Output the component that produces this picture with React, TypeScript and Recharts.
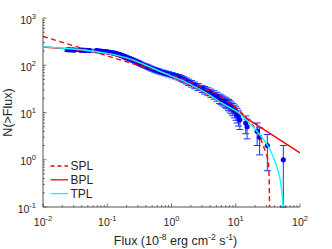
import React from "react"
import { ComposedChart, XAxis, YAxis, Line, ErrorBar, Legend } from "recharts"

const FONT = "'Liberation Sans', Arial, Helvetica, sans-serif"
const INK = "#262626"

// burst counts: flux (1e-8 erg cm^-2 s^-1) and cumulative number N(>Flux)
const dataFlux = [
  55, 31, 23.5, 21.5, 15, 14.3, 11.6, 11.0, 10.5, 10.1, 9.6, 9.0, 8.5, 8.1, 7.7, 7.2, 6.8, 6.3, 5.9, 5.6,
  5.1, 4.6, 4.1, 3.7, 3.3, 3.0, 2.6, 2.3, 2.05, 1.85, 1.7, 1.55, 1.42, 1.3, 1.15, 1.02, 0.9, 0.8, 0.72, 0.65,
  0.6, 0.55, 0.5, 0.46, 0.43, 0.4, 0.37, 0.34, 0.32, 0.3, 0.28, 0.26, 0.245, 0.23, 0.215, 0.2, 0.19, 0.18,
  0.17, 0.16, 0.15, 0.14, 0.13, 0.12, 0.11, 0.1, 0.092, 0.084, 0.078, 0.072, 0.068, 0.053, 0.05, 0.047,
  0.044, 0.041, 0.038, 0.031, 0.029, 0.026, 0.024,
]
const dataN = [
  1, 2, 3, 4, 5, 6, 7, 8, 9, 10, 11, 12, 13, 14, 15, 16, 17, 18, 19, 20,
  22, 24, 26, 28, 30, 32, 35, 38, 41, 44, 47, 50, 53, 56, 59, 62, 65, 68, 71, 74,
  77, 80, 84, 88, 92, 96, 100, 105, 110, 115, 120, 125, 130, 135, 140, 145, 150, 155,
  160, 165, 170, 175, 180, 184, 188, 192, 195, 198, 200, 202, 203, 204, 205, 206,
  207, 208, 209, 210, 211, 212, 213,
]

// fitted models
const splFlux = [0.01, 0.03, 0.1, 0.3, 0.52, 1, 2, 3.4, 5, 6.6, 8.5, 10.7, 13, 15.6, 20, 24, 26.7, 30, 32, 33, 33.3, 33.5, 33.6]
const splN = [408, 258, 158, 100, 82, 62, 44, 31, 25, 19, 15, 11.8, 9, 7, 4.6, 3, 2.0, 1.3, 0.92, 0.45, 0.25, 0.12, 0.05]

const bplFlux = [0.01, 0.03, 0.06, 0.1, 0.2, 0.46, 1, 2, 4, 8, 12, 100]
const bplN = [243, 218, 196, 176, 141, 91, 58, 38, 22.5, 12.6, 9.0, 1.4]

const tplFlux = [0.01, 0.03, 0.06, 0.1, 0.2, 0.3, 0.46, 0.7, 1, 1.35, 2, 3, 4, 6, 8, 11, 14, 18, 22, 28, 34, 40, 45, 50, 53, 54.5, 55.2]
const tplN = [245, 220, 198, 178, 143, 118, 92, 72, 59, 50, 39, 29, 23, 16, 12.8, 10, 7.3, 5.3, 3.8, 2.5, 1.65, 1.0, 0.62, 0.33, 0.17, 0.1, 0.05]

const xMajor = [0.01, 0.1, 1, 10, 100]
const yMajor = [0.1, 1, 10, 100, 1000]
const minorSteps = [2, 3, 4, 5, 6, 7, 8, 9]

const legendItems = [
  { name: "SPL", color: "#ff0000", dash: "4 3" },
  { name: "BPL", color: "#ff0000", dash: undefined },
  { name: "TPL", color: "#00ffff", dash: undefined },
]

const rows = (xs: number[], ys: number[]) => xs.map((s, i) => ({ s, n: ys[i] }))
const splRows = rows(splFlux, splN)
const bplRows = rows(bplFlux, bplN)
const tplRows = rows(tplFlux, tplN)
// poisson errors, lower end stops at the axis floor
const pointRows = dataFlux
  .map((s, i) => {
    const n = dataN[i]
    const e = Math.sqrt(n)
    return { s, n, err: [Math.min(e, n - 0.1), e] }
  })
  .sort((a, b) => a.s - b.s)

const withMinor = (major: number[]) =>
  [...major, ...major.slice(0, -1).flatMap((d) => minorSteps.map((k) => +(d * k).toPrecision(3)))].sort((a, b) => a - b)
const xTicks = withMinor(xMajor)
const yTicks = withMinor(yMajor)

const Pow = ({ v, x, y, anchor }: { v: number; x: number; y: number; anchor: "middle" | "end" }) => (
  <text x={x} y={y} textAnchor={anchor} fontSize={10.5} fill={INK} fontFamily={FONT}>
    10
    <tspan dy={-5} fontSize={7.5}>
      {Math.round(Math.log10(v))}
    </tspan>
  </text>
)

function BottomTick({ x, y, payload }: any) {
  const major = xMajor.includes(payload.value)
  return (
    <g>
      <line x1={x} x2={x} y1={y} y2={y - (major ? 3.5 : 2)} stroke={INK} strokeWidth={0.6} />
      {major && <Pow v={payload.value} x={x} y={y + 19} anchor="middle" />}
    </g>
  )
}

function TopTick({ x, y, payload }: any) {
  const major = xMajor.includes(payload.value)
  return <line x1={x} x2={x} y1={y} y2={y + (major ? 3.5 : 2)} stroke={INK} strokeWidth={0.6} />
}

function LeftTick({ x, y, payload }: any) {
  const major = yMajor.includes(payload.value)
  return (
    <g>
      <line x1={x} x2={x + (major ? 3.5 : 2)} y1={y} y2={y} stroke={INK} strokeWidth={0.6} />
      {major && <Pow v={payload.value} x={x - 7} y={y + 5.5} anchor="end" />}
    </g>
  )
}

function RightTick({ x, y, payload }: any) {
  const major = yMajor.includes(payload.value)
  return <line x1={x} x2={x - (major ? 3.5 : 2)} y1={y} y2={y} stroke={INK} strokeWidth={0.6} />
}

function XTitle({ viewBox }: any) {
  const cx = viewBox.x + viewBox.width / 2 + 4
  return (
    <text x={cx} y={viewBox.y + 38} textAnchor="middle" fontSize={12.5} fill={INK} fontFamily={FONT}>
      Flux (10<tspan dy={-5} fontSize={8.5}>-8</tspan>
      <tspan dy={5}> erg cm</tspan>
      <tspan dy={-5} fontSize={8.5}>-2</tspan>
      <tspan dy={5}> s</tspan>
      <tspan dy={-5} fontSize={8.5}>-1</tspan>
      <tspan dy={5}>)</tspan>
    </text>
  )
}

function YTitle({ viewBox }: any) {
  const x = viewBox.x - 1.5
  const y = viewBox.y + viewBox.height / 2
  return (
    <text x={x} y={y} transform={`rotate(-90, ${x}, ${y})`} textAnchor="middle" fontSize={12.5} fill={INK} fontFamily={FONT}>
      N(&gt;Flux)
    </text>
  )
}

function LegendBox() {
  return (
    <svg width={70} height={46}>
      {legendItems.map((it, i) => {
        const y = 8 + i * 13.8
        return (
          <g key={it.name}>
            <line x1={2.5} x2={20} y1={y} y2={y} stroke={it.color} strokeWidth={1.3} strokeDasharray={it.dash} />
            <text x={22.5} y={y + 4.3} fontSize={12} fill={INK} fontFamily={FONT}>
              {it.name}
            </text>
          </g>
        )
      })}
    </svg>
  )
}

export default function App() {
  return (
    <div style={{ position: "absolute", left: 0, top: 0, width: 332, height: 249, background: "#fff" }}>
      <ComposedChart width={332} height={249} margin={{ top: 18, right: 32, bottom: 12, left: 13 }}>
        <XAxis
          dataKey="s"
          type="number"
          scale="log"
          domain={[0.01, 100]}
          allowDataOverflow
          ticks={xTicks}
          interval={0}
          tickSize={0}
          tickMargin={0}
          tick={<BottomTick />}
          tickLine={false}
          axisLine={{ stroke: INK, strokeWidth: 0.8 }}
          height={30}
          label={<XTitle />}
        />
        <XAxis
          xAxisId="top"
          orientation="top"
          dataKey="s"
          type="number"
          scale="log"
          domain={[0.01, 100]}
          allowDataOverflow
          ticks={xTicks}
          interval={0}
          tickSize={0}
          tickMargin={0}
          tick={<TopTick />}
          tickLine={false}
          axisLine={{ stroke: INK, strokeWidth: 0.8 }}
          height={0}
        />
        <YAxis
          type="number"
          scale="log"
          domain={[0.1, 1000]}
          allowDataOverflow
          ticks={yTicks}
          interval={0}
          tickSize={0}
          tickMargin={0}
          tick={<LeftTick />}
          tickLine={false}
          axisLine={{ stroke: INK, strokeWidth: 0.8 }}
          width={30}
          label={<YTitle />}
        />
        <YAxis
          yAxisId="right"
          orientation="right"
          type="number"
          scale="log"
          domain={[0.1, 1000]}
          allowDataOverflow
          ticks={yTicks}
          interval={0}
          tickSize={0}
          tickMargin={0}
          tick={<RightTick />}
          tickLine={false}
          axisLine={{ stroke: INK, strokeWidth: 0.8 }}
          width={0}
        />
        <Line
          data={pointRows}
          dataKey="n"
          type="linear"
          stroke="none"
          isAnimationActive={false}
          legendType="none"
          dot={(p: any) => <circle key={p.index} cx={p.cx} cy={p.cy} r={2.6} fill="#0000ff" stroke="none" />}
        >
          <ErrorBar dataKey="err" direction="y" width={3.5} stroke="#1535f5" strokeWidth={1} />
        </Line>
        <Line data={splRows} dataKey="n" type="monotone" stroke="#ff0000" strokeWidth={1.4} strokeDasharray="5 3.5" dot={false} isAnimationActive={false} legendType="none" zIndex={700} />
        <Line data={bplRows} dataKey="n" type="linear" stroke="#ff0000" strokeWidth={1.4} dot={false} isAnimationActive={false} legendType="none" zIndex={700} />
        <Line data={tplRows} dataKey="n" type="monotone" stroke="#00ffff" strokeWidth={1.4} dot={false} isAnimationActive={false} legendType="none" zIndex={700} />
        <Legend
          layout="vertical"
          align="center"
          verticalAlign="middle"
          content={() => <LegendBox />}
          wrapperStyle={{ left: 48, top: 158, width: 70, height: 46 }}
        />
      </ComposedChart>
    </div>
  )
}
